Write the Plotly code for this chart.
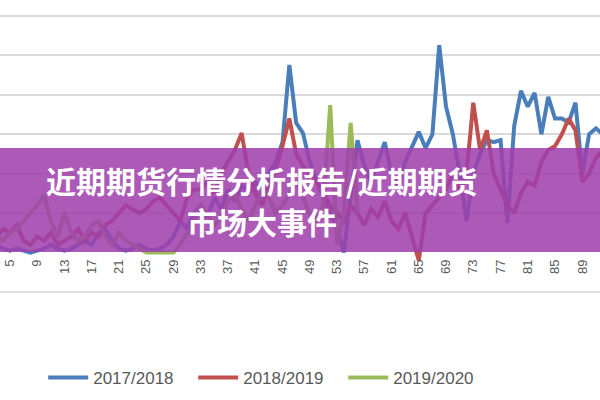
import plotly.graph_objects as go

# week index 3..92
x_vals = list(range(3, 93))

blue_2017 = [
    12, 11, 10.5, 11, 10.5, 10, 10.5, 11, 12, 11,        # 3-12
    10.5, 11, 12, 13, 12, 15, 16, 13, 11, 10.5,          # 13-22
    11, 12, 11, 10.5, 11, 12, 14, 18, 16, 20,            # 23-32
    22, 19, 24, 21, 26, 23, 27, 25, 28, 24,              # 33-42
    30, 33, 38, 57.6, 42.9, 40.3, 33, 28, 24, 20,        # 43-52
    16, 10, 25, 38.5, 32, 28, 33, 38, 30, 27,            # 53-62
    33, 37, 40.6, 36.5, 40, 62.6, 47, 40, 30, 18,        # 63-72
    30, 35, 38.5, 38, 38.5, 17.5, 42, 51, 47, 50.5,      # 73-82
    40, 49.5, 44, 44, 43, 48, 30, 40, 41.5, 40,          # 83-92
]

red_2018 = [
    14, 16, 15, 17, 13, 12, 14, 13, 15, 12,              # 3-12
    13, 14, 16, 13, 15, 14, 17, 18, 20, 22,              # 13-22
    21, 20, 21, 23, 24, 22, 20, 18, 24, 26,              # 23-32
    26, 28, 25, 30, 33, 36, 40.3, 30, 25, 22,            # 33-42
    27, 31, 37, 44, 35, 32, 30, 28, 25, 22,              # 43-52
    20, 18, 22, 20, 17, 21, 19, 23, 18, 16,              # 53-62
    20, 14, 8, 20, 22, 24, 26, 30, 25, 30,               # 63-72
    48, 36, 41, 30, 26, 22, 20, 25, 28, 27,              # 73-82
    33, 36, 37, 40, 44, 41, 28, 30, 34, 36,              # 83-92
]

green_2019 = [
    14, 13, 15, 16, 18, 20, 22, 24.6, 18, 14,            # 3-12
    20, 15, 13, 14, 17, 18, 14, 12, 15, 13,              # 13-22
    12, 11, 10, 10, 10, 10, 10, 12, 15, 18,              # 23-32
    22, 20, 17, 19, 23, 25, 21, 18, 22, 26,              # 33-42
    24, 20, 22, 25, 28, 24, 20, 18, 22, 47.4,            # 43-52
    12, 20, 42.9, 20,                                    # 53-56
]

tick_vals = list(range(5, 93, 4))
grid_vals = [20, 30, 40, 50, 60, 70]

fig = go.Figure()
fig.add_trace(go.Scatter(x=x_vals, y=blue_2017, mode="lines", name="2017/2018",
                         line=dict(color="#4a7ebb", width=4)))
fig.add_trace(go.Scatter(x=x_vals, y=red_2018, mode="lines", name="2018/2019",
                         line=dict(color="#c0504d", width=4)))
fig.add_trace(go.Scatter(x=x_vals[:len(green_2019)], y=green_2019, mode="lines", name="2019/2020",
                         line=dict(color="#9bbb59", width=4)))

plot_top, plot_bottom = 14, 292
H = plot_bottom - plot_top


def py(px):
    return (plot_bottom - px) / H


fig.update_layout(
    width=600, height=400,
    margin=dict(l=0, r=0, t=plot_top, b=400 - plot_bottom),
    paper_bgcolor="white", plot_bgcolor="white",
    showlegend=True,
    legend=dict(orientation="h", x=0.072, xanchor="left", y=py(378), yanchor="middle",
                font=dict(family="Liberation Sans", size=17, color="#595959"),
                entrywidth=95, entrywidthmode="pixels", itemwidth=40),
    xaxis=dict(range=[3.53, 91.6], tickvals=tick_vals, tickangle=-90,
               tickfont=dict(family="Liberation Sans", size=13, color="#595959"),
               showgrid=False, zeroline=False, showline=False, ticks="",
               anchor="free", position=py(256), automargin=False,
               ticklabeloverflow="allow"),
    yaxis=dict(range=[0, 70.5], tickvals=grid_vals, showticklabels=False, showgrid=True,
               gridcolor="#d9d9d9", gridwidth=2, zeroline=False, automargin=False),
    shapes=[
        dict(type="line", xref="paper", yref="paper", x0=0, x1=1, y0=0, y1=0,
             line=dict(color="#d9d9d9", width=1.5)),
        dict(type="rect", xref="paper", yref="paper", x0=0, x1=1, y0=py(252), y1=py(148),
             fillcolor="rgba(160,62,172,0.86)", line=dict(width=0), layer="above"),
    ],
    annotations=[
        dict(text="<b>近期期货行情分析报告/近期期货</b>", xref="paper", yref="paper",
             x=262 / 600, y=py(180), showarrow=False, xanchor="center", yanchor="middle",
             font=dict(family="Noto Sans CJK SC", size=30, color="white")),
        dict(text="<b>市场大事件</b>", xref="paper", yref="paper",
             x=262 / 600, y=py(221), showarrow=False, xanchor="center", yanchor="middle",
             font=dict(family="Noto Sans CJK SC", size=30, color="white")),
    ],
)

fig.write_html("out.html", config={"displayModeBar": False},
               post_script="document.body.style.margin='0';")
